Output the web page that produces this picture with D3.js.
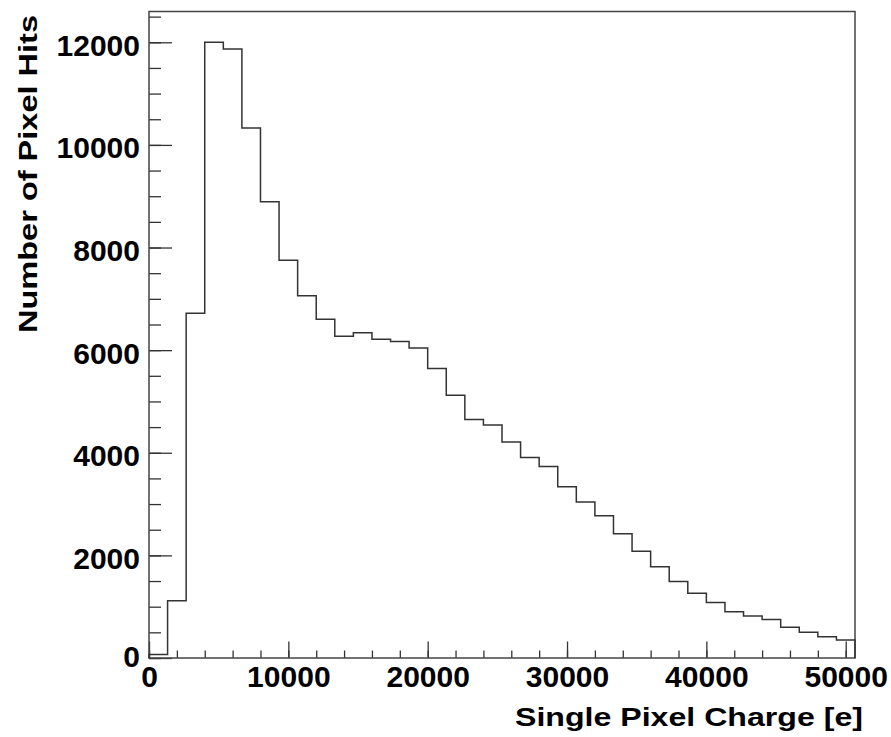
<!doctype html>
<html>
<head>
<meta charset="utf-8">
<title>Single Pixel Charge</title>
<script src="https://cdn.jsdelivr.net/npm/d3@7"></script>
<style>
  body { margin: 0; background: #fff; }
  text { font-family: "Liberation Sans", Arial, Helvetica, sans-serif; font-weight: bold; fill: #000; }
</style>
</head>
<body>
<svg width="891" height="737"></svg>
<script>
// histogram: 38 bins from 0 to 50666.7 e (bin width 1333.3)
var nBins = 38,
    xMin = 0,
    xMax = 50666.67;
var counts = [70, 1115, 6720, 12000, 11870, 10330, 8890, 7750, 7060, 6600,
              6270, 6340, 6210, 6170, 6040, 5640, 5120, 4650, 4540, 4210,
              3910, 3730, 3340, 3040, 2770, 2420, 2080, 1780, 1490, 1260,
              1080, 900, 820, 750, 600, 500, 415, 350];
var xMajor = [0, 10000, 20000, 30000, 40000, 50000];
var yMajor = [0, 2000, 4000, 6000, 8000, 10000, 12000];
var yMax = 12600;

var svg = d3.select("svg");
var pLeft = 149, pRight = 855, pTop = 11.5, pBottom = 658;

var x = d3.scaleLinear().domain([xMin, xMax]).range([pLeft, pRight]);
var y = d3.scaleLinear().domain([0, yMax]).range([pBottom, pTop]);

var xMinor = d3.range(0, xMax, 2000),
    yMinor = d3.range(0, yMax, 500);

function labelLen(d) { return String(d).length * 16.7; }

// minor ticks first
svg.append("g")
    .attr("transform", "translate(0," + pBottom + ")")
    .call(d3.axisBottom(x).tickValues(xMinor).tickSize(-7.5).tickFormat(""))
    .call(function(g) { g.select(".domain").remove(); });
svg.append("g")
    .attr("transform", "translate(" + pLeft + ",0)")
    .call(d3.axisLeft(y).tickValues(yMinor).tickSize(-12).tickFormat(""))
    .call(function(g) { g.select(".domain").remove(); });

var xAxis = svg.append("g")
    .attr("transform", "translate(0," + pBottom + ")")
    .call(d3.axisBottom(x).tickValues(xMajor).tickSize(-16.5).tickPadding(9).tickFormat(d3.format("d")));
xAxis.select(".domain").remove();
xAxis.selectAll("text")
    .attr("font-size", 29).attr("dy", "0.7em").attr("font-family", null)
    .attr("textLength", labelLen).attr("lengthAdjust", "spacingAndGlyphs");

var yAxis = svg.append("g")
    .attr("transform", "translate(" + pLeft + ",0)")
    .call(d3.axisLeft(y).tickValues(yMajor).tickSize(-23).tickPadding(9).tickFormat(d3.format("d")));
yAxis.select(".domain").remove();
yAxis.selectAll("text")
    .attr("font-size", 29).attr("dy", "0.45em").attr("font-family", null)
    .attr("textLength", labelLen).attr("lengthAdjust", "spacingAndGlyphs");
yAxis.selectAll("text").filter(function(d) { return d === 0; }).attr("dy", "0.3em");

svg.selectAll(".tick line").attr("stroke", "#333").attr("stroke-width", 1.3);

// frame
svg.append("rect")
    .attr("x", pLeft).attr("y", pTop)
    .attr("width", pRight - pLeft).attr("height", pBottom - pTop)
    .attr("fill", "none").attr("stroke", "#444").attr("stroke-width", 1.5);

// histogram outline
var binW = (xMax - xMin) / nBins;
var pts = [[xMin, 0]];
counts.forEach(function(c, i) {
    pts.push([xMin + i * binW, c]);
    pts.push([xMin + (i + 1) * binW, c]);
});
pts.push([xMax, 0]);

svg.append("path")
    .datum(pts)
    .attr("fill", "none")
    .attr("stroke", "#333")
    .attr("stroke-width", 1.5)
    .attr("d", d3.line().x(function(d) { return x(d[0]); }).y(function(d) { return y(d[1]); }));

// axis titles
svg.append("text")
    .attr("x", 863).attr("y", 726)
    .attr("text-anchor", "end")
    .attr("font-size", 25)
    .attr("textLength", 348).attr("lengthAdjust", "spacingAndGlyphs")
    .text("Single Pixel Charge [e]");

svg.append("text")
    .attr("transform", "translate(37,15) rotate(-90)")
    .attr("text-anchor", "end")
    .attr("font-size", 25)
    .attr("textLength", 318).attr("lengthAdjust", "spacingAndGlyphs")
    .text("Number of Pixel Hits");
</script>
</body>
</html>
